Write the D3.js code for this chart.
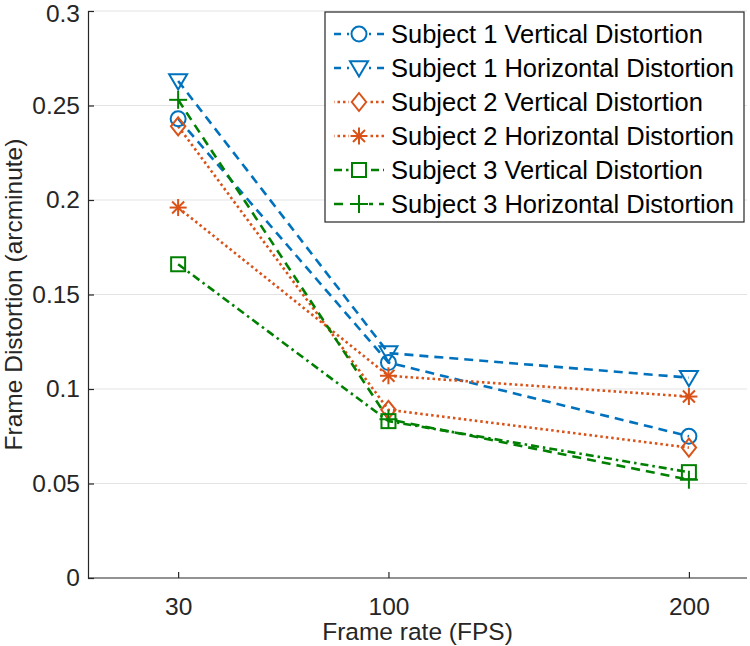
<!DOCTYPE html>
<html><head><meta charset="utf-8">
<script src="https://cdn.jsdelivr.net/npm/d3@7/dist/d3.min.js"></script>
<style>body{margin:0;background:#fff;} svg{display:block;font-family:"Liberation Sans",Arial,sans-serif;}</style>
</head><body>
<svg id="c" width="750" height="646"></svg>
<script>
const frameRates = [30, 100, 200];
const xTicks = [30, 100, 200];
const yTicks = [0, 0.05, 0.1, 0.15, 0.2, 0.25, 0.3];
const seriesNames = ["Subject 1 Vertical Distortion","Subject 1 Horizontal Distortion","Subject 2 Vertical Distortion","Subject 2 Horizontal Distortion","Subject 3 Vertical Distortion","Subject 3 Horizontal Distortion"];
const s1Vertical = [0.243, 0.114, 0.075];
const s1Horizontal = [0.263, 0.119, 0.106];
const s2Vertical = [0.239, 0.089, 0.069];
const s2Horizontal = [0.196, 0.107, 0.096];
const s3Vertical = [0.166, 0.083, 0.056];
const s3Horizontal = [0.253, 0.084, 0.052];

const blue = "#0072BD", orange = "#D95319", green = "#008000";
const styles = [
  {color: blue, dash: "9,6", marker: "circle"},
  {color: blue, dash: "9,6", marker: "triangle"},
  {color: orange, dash: "2.5,3", marker: "diamond"},
  {color: orange, dash: "2.5,3", marker: "asterisk"},
  {color: green, dash: "8,4,2.5,4", marker: "square"},
  {color: green, dash: "9,6", marker: "plus"}
];
const allValues = [s1Vertical, s1Horizontal, s2Vertical, s2Horizontal, s3Vertical, s3Horizontal];
const series = seriesNames.map((n,i)=>({name:n, values: allValues[i].map((v,j)=>({x:frameRates[j], y:v})), ...styles[i]}));

const svg = d3.select("#c");
const L = 88, R = 749, T = 11, B = 578;
const FS = 24.5;
const x = d3.scaleLinear().domain([0, 220]).range([L, R]);
const y = d3.scaleLinear().domain([0, 0.3]).range([B, T]);

// grid
svg.append("g").selectAll("line").data(yTicks.filter(d=>d>0)).join("line")
  .attr("x1", L).attr("x2", 747).attr("y1", d=>y(d)).attr("y2", d=>y(d))
  .attr("stroke", "#e3e3e3").attr("stroke-width", 1.2);

// axes
const xAxis = svg.append("g").attr("transform", `translate(0,${B})`)
  .call(d3.axisBottom(x).tickValues(xTicks).tickSize(-6).tickPadding(20).tickFormat(d3.format("d")));
const yAxis = svg.append("g").attr("transform", `translate(${L},0)`)
  .call(d3.axisLeft(y).tickValues(yTicks).tickSize(-6).tickPadding(8).tickFormat(d=>d===0?"0":String(d)));
[xAxis, yAxis].forEach(a=>{
  a.select(".domain").attr("stroke", "#262626").attr("stroke-width", 1.2);
  a.selectAll(".tick line").attr("stroke", "#262626").attr("stroke-width", 1.2);
  a.selectAll("text").attr("fill", "#262626").style("font-size", FS + "px");
});
xAxis.select(".domain").attr("d", `M${L},0H747`);
yAxis.selectAll(".tick").filter(d=>d===0.3).select("text").attr("dy", "0.42em");

svg.append("text").attr("x", (L+747)/2).attr("y", 640).attr("text-anchor", "middle")
  .attr("fill", "#262626").style("font-size", FS + "px").text("Frame rate (FPS)");
svg.append("text").attr("transform", `translate(22,${(T+B)/2}) rotate(-90)`).attr("text-anchor", "middle")
  .attr("fill", "#262626").style("font-size", FS + "px").text("Frame Distortion (arcminute)");

function drawMarker(g, type, cx, cy, color) {
  const sw = 2;
  if (type === "circle") {
    g.append("circle").attr("cx", cx).attr("cy", cy).attr("r", 7.5).attr("fill", "none").attr("stroke", color).attr("stroke-width", sw);
  } else if (type === "triangle") {
    const s = 9;
    g.append("path").attr("d", `M${cx-s},${cy-s*0.75}L${cx+s},${cy-s*0.75}L${cx},${cy+s*0.95}Z`).attr("fill", "none").attr("stroke", color).attr("stroke-width", sw);
  } else if (type === "diamond") {
    const s = 9;
    g.append("path").attr("d", `M${cx},${cy-s}L${cx+s*0.8},${cy}L${cx},${cy+s}L${cx-s*0.8},${cy}Z`).attr("fill", "none").attr("stroke", color).attr("stroke-width", sw);
  } else if (type === "asterisk") {
    const s = 8.5;
    for (let a = 0; a < 180; a += 45) {
      const r = a*Math.PI/180;
      g.append("line").attr("x1", cx - s*Math.cos(r)).attr("y1", cy - s*Math.sin(r)).attr("x2", cx + s*Math.cos(r)).attr("y2", cy + s*Math.sin(r)).attr("stroke", color).attr("stroke-width", sw);
    }
  } else if (type === "square") {
    const s = 7;
    g.append("rect").attr("x", cx-s).attr("y", cy-s).attr("width", 2*s).attr("height", 2*s).attr("fill", "none").attr("stroke", color).attr("stroke-width", sw);
  } else if (type === "plus") {
    const s = 9;
    g.append("line").attr("x1", cx-s).attr("x2", cx+s).attr("y1", cy).attr("y2", cy).attr("stroke", color).attr("stroke-width", sw);
    g.append("line").attr("x1", cx).attr("x2", cx).attr("y1", cy-s).attr("y2", cy+s).attr("stroke", color).attr("stroke-width", sw);
  }
}

const line = d3.line().x(d=>x(d.x)).y(d=>y(d.y));
const plot = svg.append("g");
series.forEach(s=>{
  plot.append("path").datum(s.values).attr("d", line).attr("fill", "none")
    .attr("stroke", s.color).attr("stroke-width", 2.6).attr("stroke-dasharray", s.dash);
});
series.forEach(s=>{
  const g = plot.append("g");
  s.values.forEach(d=>drawMarker(g, s.marker, x(d.x), y(d.y), s.color));
});

// legend
const lg = svg.append("g");
lg.append("rect").attr("x", 325).attr("y", 12).attr("width", 419).attr("height", 210)
  .attr("fill", "#fff").attr("stroke", "#262626").attr("stroke-width", 1.2);
series.forEach((s,i)=>{
  const cy = 34 + i*34;
  lg.append("line").attr("x1", 334).attr("x2", 384).attr("y1", cy).attr("y2", cy)
    .attr("stroke", s.color).attr("stroke-width", 2.6).attr("stroke-dasharray", s.dash)
    .attr("stroke-dashoffset", s.marker==="square"||s.marker==="plus" ? 0 : 2);
  const mg = lg.append("g");
  mg.append("rect").attr("x", 349).attr("y", cy-9).attr("width", 20).attr("height", 18).attr("fill", "#fff");
  drawMarker(mg, s.marker, 359, cy, s.color);
  lg.append("text").attr("x", 391).attr("y", cy+9).attr("fill", "#000").style("font-size", "25.5px").text(s.name);
});
</script>
</body></html>
